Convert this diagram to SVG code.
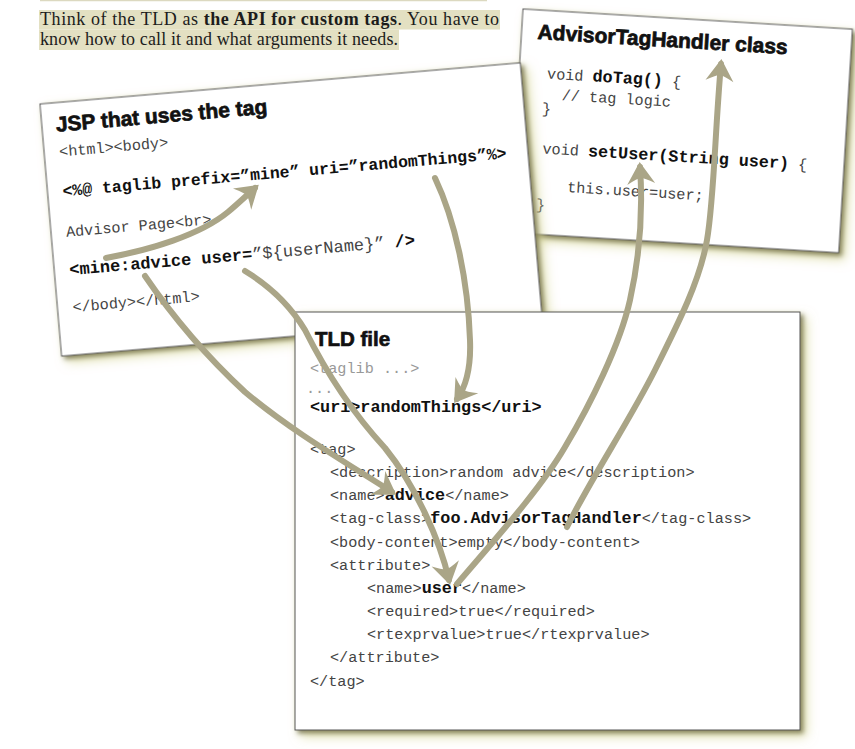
<svg xmlns="http://www.w3.org/2000/svg" width="855" height="749" viewBox="0 0 855 749">
<defs>
<style>
.intro{font-family:"Liberation Serif","Times New Roman",serif;font-size:18px;fill:#1c1c1c}
.hl{fill:#e3e0c2}
.card{fill:#fff;stroke:#555;stroke-width:1;filter:url(#shadow)}
.title{font-family:"Liberation Sans",Arial,sans-serif;font-weight:bold;font-size:21px;fill:#111;stroke:#111;stroke-width:0.7}
.code{font-family:"Liberation Mono","Courier New",monospace;font-size:15.2px;fill:#444}
.b{font-weight:bold;fill:#111;font-size:16.8px}
.dim{fill:#999}
.arrow{fill:none;stroke:#aaa587;stroke-width:6;stroke-linecap:round;stroke-linejoin:round;marker-end:url(#head)}
</style>
<filter id="shadow" x="-10%" y="-10%" width="125%" height="125%">
<feGaussianBlur in="SourceAlpha" stdDeviation="6" result="b1"/>
<feOffset in="b1" dx="6" dy="6" result="o1"/>
<feFlood flood-color="#d6d594" flood-opacity="0.75"/>
<feComposite in2="o1" operator="in" result="s1"/>
<feGaussianBlur in="SourceAlpha" stdDeviation="2.5" result="b2"/>
<feOffset in="b2" dx="3" dy="3" result="o2"/>
<feFlood flood-color="#5e5a38" flood-opacity="0.8"/>
<feComposite in2="o2" operator="in" result="s2"/>
<feMerge><feMergeNode in="s1"/><feMergeNode in="s2"/><feMergeNode in="SourceGraphic"/></feMerge>
</filter>
<marker id="head" markerUnits="userSpaceOnUse" markerWidth="40" markerHeight="40" viewBox="-25 -20 35 40" refX="0" refY="0" orient="auto">
<path d="M5,0 L-17,-14 Q-11,-3 -11,0 Q-11,3 -17,14 Z" fill="#aaa587"/>
</marker>
</defs>

<g id="intro">
<line x1="40" y1="0.5" x2="487" y2="0.5" stroke="#dcd9c0" stroke-width="1.5"/>
<rect class="hl" x="39" y="10" width="461" height="19.5"/>
<rect class="hl" x="39" y="29.5" width="360" height="20.5"/>
<text class="intro" x="40" y="25" textLength="459" lengthAdjust="spacing">Think of the TLD as <tspan font-weight="bold">the API for custom tags</tspan>. You have to</text>
<text class="intro" x="40" y="45" textLength="358" lengthAdjust="spacing">know how to call it and what arguments it needs.</text>
</g>

<g id="handler-card" transform="translate(523,9) rotate(3.5)">
<rect class="card" x="0" y="0" width="330" height="224"/>
<text class="title" x="16" y="29">AdvisorTagHandler class</text>
<text class="code" x="28" y="68">void <tspan class="b">doTag()</tspan> {</text>
<text class="code" x="44" y="88.5" fill="#333">// tag logic</text>
<text class="code" x="25" y="103">}</text>
<text class="code" x="28" y="143">void <tspan class="b">setUser(String user)</tspan> {</text>
<text class="code" x="55" y="180">this.user=user;</text>
<text class="code" x="25" y="199">}</text>
</g>

<g id="jsp-card" transform="translate(40,104) rotate(-4.9)">
<rect class="card" x="0" y="0" width="482" height="253"/>
<text class="title" x="14" y="29">JSP that uses the tag</text>
<text class="code" x="15" y="54">&lt;html&gt;&lt;body&gt;</text>
<text class="code b" x="15" y="94" style="font-size:16.5px">&lt;%@ taglib prefix=”mine” uri=”randomThings”%&gt;</text>
<text class="code" x="15" y="134.5">Advisor Page&lt;br&gt;</text>
<text class="code" x="15" y="173" style="font-size:17px"><tspan class="b" style="font-size:17px">&lt;mine:advice user=</tspan>”${userName}”<tspan class="b" style="font-size:17px"> /&gt;</tspan></text>
<text class="code" x="15" y="210">&lt;/body&gt;&lt;/html&gt;</text>
</g>

<g id="tld-card">
<rect class="card" x="295" y="312" width="505" height="418"/>
<text class="title" x="315" y="346" style="font-size:20.5px">TLD file</text>
<text class="code dim" x="310" y="373">&lt;taglib ...&gt;</text>
<text class="code dim" x="306" y="393">...</text>
<text class="code b" x="310" y="412">&lt;uri&gt;randomThings&lt;/uri&gt;</text>
<text class="code" x="310" y="454">&lt;tag&gt;</text>
<text class="code" x="330" y="477">&lt;description&gt;random advice&lt;/description&gt;</text>
<text class="code" x="330" y="500">&lt;name&gt;<tspan class="b">advice</tspan>&lt;/name&gt;</text>
<text class="code" x="330" y="523">&lt;tag-class&gt;<tspan class="b">foo.AdvisorTagHandler</tspan>&lt;/tag-class&gt;</text>
<text class="code" x="330" y="546.5">&lt;body-content&gt;empty&lt;/body-content&gt;</text>
<text class="code" x="330" y="569.5">&lt;attribute&gt;</text>
<text class="code" x="367" y="593">&lt;name&gt;<tspan class="b">user</tspan>&lt;/name&gt;</text>
<text class="code" x="367" y="616">&lt;required&gt;true&lt;/required&gt;</text>
<text class="code" x="367" y="639">&lt;rtexprvalue&gt;true&lt;/rtexprvalue&gt;</text>
<text class="code" x="330" y="662">&lt;/attribute&gt;</text>
<text class="code" x="310" y="686">&lt;/tag&gt;</text>
</g>

<g id="connectors">
<path class="arrow" d="M106,258 C150,250 200,235 228,212 C240,202 248,194 255,188"/>
<path class="arrow" d="M435,178 C455,220 468,280 470,340 C471,365 467,385 457,399"/>
<path class="arrow" d="M145,276 C175,320 205,355 245,392 C290,430 345,462 392,492"/>
<path class="arrow" d="M245,271 C268,285 290,305 305,330 C325,370 350,410 385,448 C415,485 440,540 449,580"/>
<path class="arrow" d="M457,584 C490,545 540,490 565,447 C590,405 620,345 630,300 C640,255 643,210 640,167"/>
<path class="arrow" d="M567,527 C590,480 630,420 655,370 C680,320 700,280 707,240 C714,200 715,130 721,64"/>
</g>
</svg>
